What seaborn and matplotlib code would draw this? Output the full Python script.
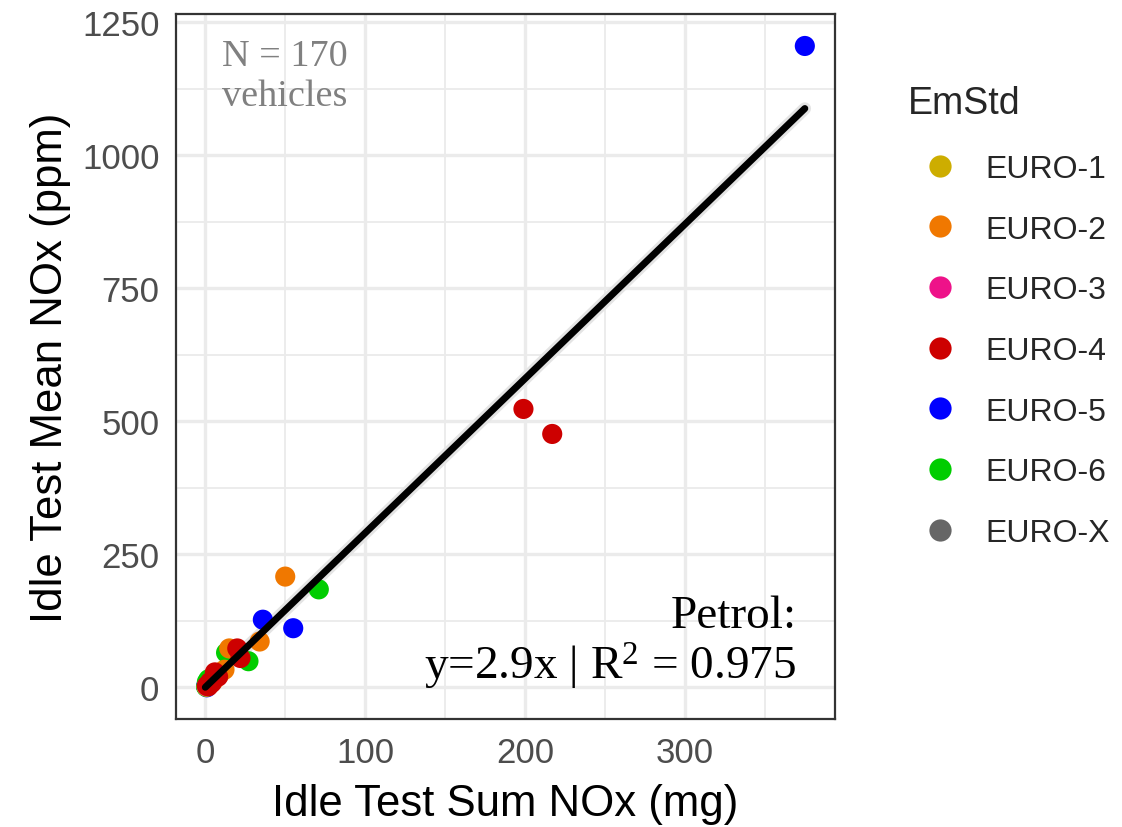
import numpy as np
import pandas as pd
import matplotlib
matplotlib.use("Agg")
import matplotlib.pyplot as plt
import seaborn as sns
from matplotlib.ticker import MultipleLocator
from matplotlib.lines import Line2D

# Idle test NOx per vehicle, grouped by emission standard
euro_levels = ["EURO-1", "EURO-2", "EURO-3", "EURO-4", "EURO-5", "EURO-6", "EURO-X"]
level_colors = ["#CDAD00", "#F07800", "#EE1289", "#CD0000", "#0000FF", "#00CD00", "#666666"]

euro5_sum = [375, 36, 55, 0.5, 1.0, 2.0]
euro5_mean = [1205, 127, 111, 2, 0, 5]
euro6_sum = [71, 27, 13, 1.0, 3.0, 2.0, 0.5]
euro6_mean = [184, 49, 65, 10, 8, 15, 1]
euro2_sum = [50, 34, 15, 12, 9, 5]
euro2_mean = [208, 86, 73, 33, 25, 12]
euro4_sum = [199, 217, 20, 22, 6, 3, 1, 4, 8, 2]
euro4_mean = [523, 476, 73, 55, 28, 10, 3, 8, 20, 2]
euro3_sum = [1.0]
euro3_mean = [2]
euro1_sum = [0.8]
euro1_mean = [1]
eurox_sum = [1.5]
eurox_mean = [3]

slope = 2.9
r_squared = 0.975
n_vehicles = 170

groups = [
    ("EURO-5", euro5_sum, euro5_mean),
    ("EURO-6", euro6_sum, euro6_mean),
    ("EURO-2", euro2_sum, euro2_mean),
    ("EURO-1", euro1_sum, euro1_mean),
    ("EURO-X", eurox_sum, eurox_mean),
    ("EURO-3", euro3_sum, euro3_mean),
    ("EURO-4", euro4_sum, euro4_mean),
]
rows = []
for name, xs, ys in groups:
    for x, y in zip(xs, ys):
        rows.append({"EmStd": name, "sum_nox": x, "mean_nox": y})
df = pd.DataFrame(rows)

sns.set_theme(style="white")
plt.rcParams["font.family"] = ["Liberation Sans", "DejaVu Sans"]
plt.rcParams["mathtext.fontset"] = "custom"
plt.rcParams["mathtext.rm"] = "Liberation Serif"
plt.rcParams["mathtext.it"] = "Liberation Serif:italic"

fig = plt.figure(figsize=(11.22, 8.28), dpi=100)
ax = fig.add_axes([0.157, 0.130, 0.587, 0.852])

palette = dict(zip(euro_levels, level_colors))
sns.scatterplot(data=df, x="sum_nox", y="mean_nox", hue="EmStd", palette=palette,
                hue_order=euro_levels, s=210, edgecolor="none", linewidth=0,
                legend=False, ax=ax, zorder=3)

# fitted line through the origin, with a faint uncertainty halo
fit_x = np.array([0.0, df["sum_nox"].max()])
fit = pd.DataFrame({"x": fit_x, "y": slope * fit_x})
sns.lineplot(data=fit, x="x", y="y", color="#E4E4E4", linewidth=9, ax=ax, zorder=2.5)
sns.lineplot(data=fit, x="x", y="y", color="black", linewidth=5, ax=ax, zorder=4)

xmin, xmax = df["sum_nox"].min(), df["sum_nox"].max()
ymin, ymax = df["mean_nox"].min(), df["mean_nox"].max()
ax.set_xlim(xmin - 0.05 * (xmax - xmin), xmax + 0.05 * (xmax - xmin))
ax.set_ylim(ymin - 0.05 * (ymax - ymin), ymax + 0.05 * (ymax - ymin))

ax.xaxis.set_major_locator(MultipleLocator(100))
ax.xaxis.set_minor_locator(MultipleLocator(50))
ax.yaxis.set_major_locator(MultipleLocator(250))
ax.yaxis.set_minor_locator(MultipleLocator(125))
ax.grid(which="major", color="#EBEBEB", linewidth=2.4, zorder=0)
ax.grid(which="minor", color="#EBEBEB", linewidth=1.3, zorder=0)
ax.set_axisbelow(True)
for sp in ax.spines.values():
    sp.set_color("#333333")
    sp.set_linewidth(1.6)
ax.tick_params(which="major", direction="out", length=7, width=2, color="#333333",
               labelsize=25, labelcolor="#4D4D4D", pad=5)
ax.tick_params(which="minor", length=0)

ax.set_xlabel("Idle Test Sum NOx (mg)", fontsize=31.5, color="black", labelpad=10)
ax.set_ylabel("Idle Test Mean NOx (ppm)", fontsize=31.5, color="black", labelpad=8)

serif = ["Liberation Serif", "DejaVu Serif"]
ax.text(0.07, 0.965, f"N = {n_vehicles}\nvehicles", transform=ax.transAxes,
        ha="left", va="top", fontsize=27.5, color="#808080", family=serif,
        linespacing=1.22)
ax.text(0.942, 0.04, f"Petrol:\ny={slope}x | R$^2$ = {r_squared}", transform=ax.transAxes,
        ha="right", va="bottom", fontsize=34, color="black", family=serif,
        linespacing=1.08, zorder=5)

handles = [Line2D([0], [0], marker="o", linestyle="none", markersize=16,
                  markerfacecolor=c, markeredgecolor="none") for c in level_colors]
leg = fig.legend(handles, euro_levels, title="EmStd", loc="upper left",
                 bbox_to_anchor=(0.798, 0.912), frameon=False, fontsize=23,
                 title_fontsize=27, labelspacing=0.96, handletextpad=0.42,
                 borderaxespad=0)
leg._legend_box.align = "left"
leg._legend_box.sep = 24

fig.savefig("out.png", dpi=100)
